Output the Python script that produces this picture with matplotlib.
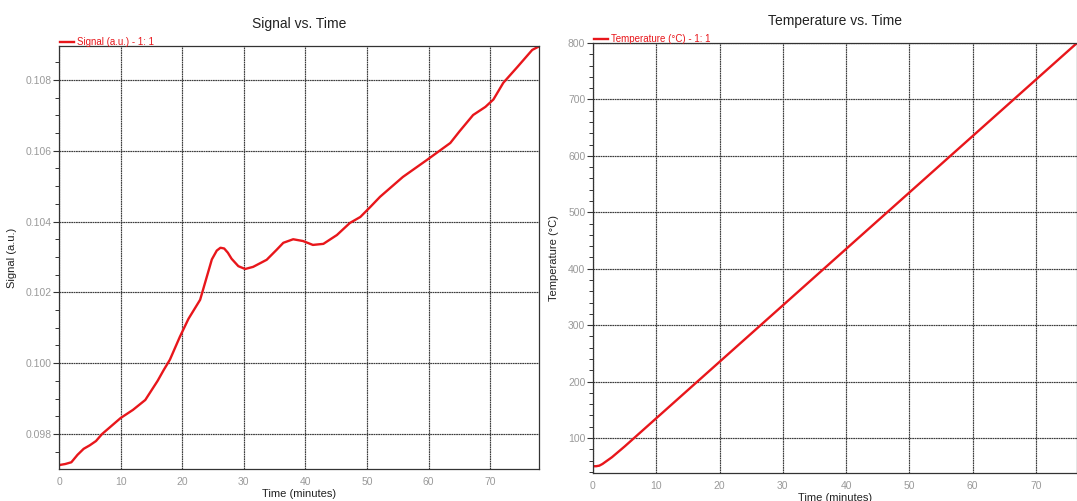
import matplotlib.pyplot as plt
from matplotlib.ticker import MultipleLocator

plt.rcParams['font.family'] = ['Liberation Sans', 'DejaVu Sans']

# signal curve
sig_time = [0, 1, 2, 3, 4, 5, 6, 7, 8, 10, 12, 14, 16, 17, 18, 19.6, 21, 22.9,
            24, 24.8, 25.6, 26.2, 26.8, 27.4, 28, 29.1, 30.2, 31.5, 33.7, 35.3,
            36.4, 38, 39.6, 41.2, 42.9, 45.1, 47.2, 48.9, 50.5, 52.1, 55.8,
            59.7, 63.5, 65, 67.2, 69.2, 70.5, 72.1, 74.4, 76.8, 77.7]
sig_value = [0.09712, 0.09715, 0.09720, 0.09741, 0.09758, 0.09768, 0.09780,
             0.09800, 0.09815, 0.09845, 0.09868, 0.09896, 0.09950, 0.09981,
             0.10010, 0.10074, 0.10125, 0.10179, 0.10245, 0.10293, 0.10318,
             0.10326, 0.10324, 0.10312, 0.10295, 0.10274, 0.10266, 0.10272,
             0.10292, 0.10320, 0.10340, 0.10350, 0.10345, 0.10334, 0.10337,
             0.10362, 0.10396, 0.10413, 0.10441, 0.10470, 0.10526, 0.10574,
             0.10622, 0.10655, 0.10701, 0.10724, 0.10745, 0.10792, 0.10837,
             0.10885, 0.10893]

# temperature ramp
temp_time = [0, 0.5, 1, 1.5, 2, 3, 5, 10, 20, 30, 40, 50, 60, 70, 76.5]
temp_value = [50, 50, 51, 54, 58, 66, 85, 135, 235, 335, 435, 535, 635, 735, 800]

RED = '#e8161b'
GRID = '#3c3c3c'
TICKC = '#9a9a9a'

fig = plt.figure(figsize=(10.77, 5.01), dpi=100)
ax1 = fig.add_axes([0.0548, 0.0639, 0.4457, 0.8443])
ax2 = fig.add_axes([0.5506, 0.0559, 0.4494, 0.8583])


def style(ax, title, ylab):
    ax.set_title(title, fontsize=10, color='#222222', pad=13)
    ax.set_xlabel('Time (minutes)', fontsize=8, color='#222222', labelpad=1)
    ax.set_ylabel(ylab, fontsize=8, color='#222222')
    ax.xaxis.set_major_locator(MultipleLocator(10))
    ax.grid(True, which='major', color=GRID, linewidth=0.85, linestyle=(0, (1.5, 0.5)))
    ax.set_axisbelow(True)
    for s in ax.spines.values():
        s.set_color('#333333')
        s.set_linewidth(0.9)
    ax.tick_params(axis='x', length=0, pad=6, labelsize=7.5, labelcolor=TICKC)
    ax.tick_params(axis='y', which='major', length=4.5, width=0.8, color='#333333',
                   pad=1, labelsize=7.5, labelcolor=TICKC)
    ax.tick_params(axis='y', which='minor', length=3, width=0.7, color='#333333')
    ax.legend(loc='lower left', bbox_to_anchor=(0, 0.995), frameon=False,
              fontsize=7, handlelength=1.4, handletextpad=0.4,
              borderaxespad=0, borderpad=0.1, labelcolor=RED)


ax1.plot(sig_time, sig_value, color=RED, linewidth=1.7, label='Signal (a.u.) - 1: 1')
ax1.set_xlim(0, 77.9)
ax1.set_ylim(0.09701, 0.10896)
ax1.yaxis.set_major_locator(MultipleLocator(0.002))
ax1.yaxis.set_minor_locator(MultipleLocator(0.0005))
ax1.yaxis.set_major_formatter(plt.FuncFormatter(lambda v, p: f'{v:.3f}'))
style(ax1, 'Signal vs. Time', 'Signal (a.u.)')
ax1.yaxis.set_label_coords(-0.088, 0.5)

ax2.plot(temp_time, temp_value, color=RED, linewidth=1.7, label='Temperature (°C) - 1: 1')
ax2.set_xlim(0, 76.5)
ax2.set_ylim(38, 800)
ax2.yaxis.set_major_locator(MultipleLocator(100))
ax2.yaxis.set_minor_locator(MultipleLocator(20))
style(ax2, 'Temperature vs. Time', 'Temperature (°C)')
ax2.yaxis.set_label_coords(-0.07, 0.5)

fig.savefig('out.png', dpi=100)
